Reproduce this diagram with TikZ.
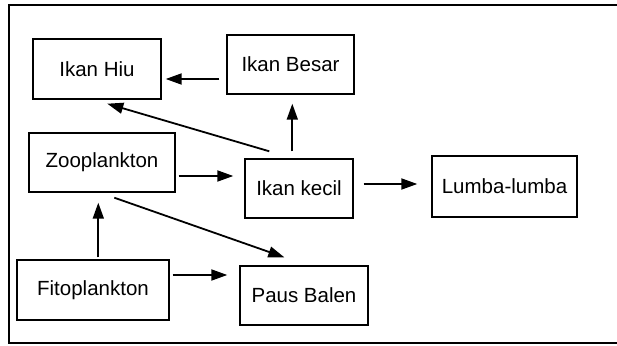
\documentclass[tikz,border=0pt]{standalone}
\usepackage{fontspec}
\setmainfont{Liberation Sans}
\usetikzlibrary{arrows.meta,calc}
\begin{document}
\begin{tikzpicture}[x=1pt,y=-1pt,
  box/.style={draw,line width=1.4pt,inner sep=0pt,font=\fontsize{20.5}{24}\selectfont},
  arr/.style={line width=1.8pt,-{Triangle[length=16pt,width=11pt]}}]
\useasboundingbox (0,0) rectangle (617,345);
\draw[line width=1.4pt] (617,5) -- (9,5) -- (9,343) -- (617,343);
\node[box,minimum width=128pt,minimum height=60pt] (hiu) at (97,69) {Ikan Hiu};
\node[box,minimum width=127pt,minimum height=59pt] (besar) at (290.5,64.5) {Ikan Besar};
\node[box,minimum width=146pt,minimum height=59pt] (zoo) at (102,162.5) {Zooplankton};
\node[box,minimum width=108pt,minimum height=59pt] (kecil) at (299,188.5) {Ikan kecil};
\node[box,minimum width=145pt,minimum height=61pt] (lumba) at (504.5,186.5) {Lumba-lumba};
\node[box,minimum width=152pt,minimum height=60pt] (fito) at (93,290) {Fitoplankton};
\node[box,minimum width=128pt,minimum height=59pt] (paus) at (304,295.5) {Paus Balen};
% Ikan Besar -> Ikan Hiu
\draw[arr] ($(besar.west)+(-7,14.5)$) -- ($(hiu.east)+(4,10)$);
% Ikan kecil -> Ikan Hiu
\draw[arr] ($(kecil.north west)+(25,-7)$) -- ($(hiu.south west)+(75,4)$);
% Ikan kecil -> Ikan Besar
\draw[arr] ($(kecil.north west)+(48,-7)$) -- ($(besar.south west)+(66,9)$);
% Zooplankton -> Ikan kecil
\draw[arr] ($(zoo.east)+(3,13.5)$) -- ($(kecil.west)+(-11,-12.5)$);
% Ikan kecil -> Lumba-lumba
\draw[arr] ($(kecil.east)+(10,-4.5)$) -- ($(lumba.west)+(-14,-2.5)$);
% Zooplankton -> Paus Balen
\draw[arr] ($(zoo.south west)+(86,5)$) -- ($(paus.north west)+(45,-8)$);
% Fitoplankton -> Zooplankton
\draw[arr] ($(fito.north west)+(82,-2)$) -- ($(zoo.south west)+(70,10)$);
% Fitoplankton -> Paus Balen
\draw[arr] ($(fito.east)+(3,-15)$) -- ($(paus.west)+(-12,-20.5)$);
\end{tikzpicture}
\end{document}
